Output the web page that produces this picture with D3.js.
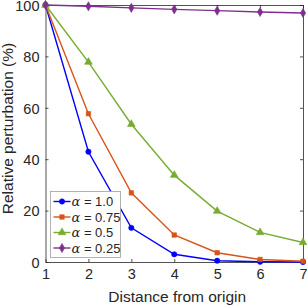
<!DOCTYPE html>
<html>
<head>
<meta charset="utf-8">
<script src="https://cdn.jsdelivr.net/npm/d3@7"></script>
<style>
  body { margin: 0; background: #fff; }
  svg { display: block; font-family: "Liberation Sans", Arial, sans-serif; }
</style>
</head>
<body>
<svg id="chart" width="307" height="305"></svg>
<script>
// data
const distances = [1, 2, 3, 4, 5, 6, 7];
const alpha100 = [100, 42.9, 13.3, 3.0, 0.5, 0.1, 0.0];
const alpha075 = [100, 57.7, 26.9, 10.5, 3.6, 1.0, 0.3];
const alpha050 = [100, 77.8, 53.6, 33.8, 19.8, 11.5, 7.6];
const alpha025 = [100, 99.5, 98.9, 98.3, 97.8, 97.3, 96.9];
const xTicks = [1, 2, 3, 4, 5, 6, 7];
const yTicks = [0, 20, 40, 60, 80, 100];

const series = [
    { label: "1.0", values: alpha100, color: "#0000ff", marker: "circle" },
    { label: "0.75", values: alpha075, color: "#D95319", marker: "square" },
    { label: "0.5", values: alpha050, color: "#77AC30", marker: "triangle" },
    { label: "0.25", values: alpha025, color: "#7E2F8E", marker: "diamond" }
];

const axisColor = "#262626";
const margin = { top: 5, right: 4, bottom: 43, left: 45.5 };
const width = 307 - margin.left - margin.right;
const height = 305 - margin.top - margin.bottom;

const svg = d3.select("#chart");
const g = svg.append("g").attr("transform", `translate(${margin.left},${margin.top})`);

const x = d3.scaleLinear().domain([1, 7]).range([0, width]);
const y = d3.scaleLinear().domain([0, 100]).range([height, 0]);

const symbols = {
    circle: d3.symbol().type(d3.symbolCircle).size(22),
    square: d3.symbol().type(d3.symbolSquare).size(20),
    triangle: d3.symbol().type(d3.symbolTriangle).size(26),
    diamond: d3.symbol().type(d3.symbolDiamond).size(24)
};

// axes with inward ticks
function styleAxis(sel) {
    sel.selectAll("path").attr("stroke", axisColor).attr("stroke-width", 0.8);
    sel.selectAll("line").attr("stroke", axisColor).attr("stroke-width", 0.8);
    sel.selectAll("text").attr("fill", axisColor).style("font-size", "14.5px");
}

g.append("g")
    .attr("transform", `translate(0,${height})`)
    .call(d3.axisBottom(x).tickValues(xTicks).tickFormat(d3.format("d")).tickSize(-3).tickPadding(7).tickSizeOuter(0))
    .call(styleAxis);

g.append("g")
    .call(d3.axisTop(x).tickValues(xTicks).tickSize(-3).tickFormat("").tickSizeOuter(0))
    .call(styleAxis);

g.append("g")
    .call(d3.axisLeft(y).tickValues(yTicks).tickSize(-3).tickPadding(6).tickSizeOuter(0))
    .call(styleAxis)
    .selectAll("text").attr("dy", "0.36em");

g.append("g")
    .attr("transform", `translate(${width},0)`)
    .call(d3.axisRight(y).tickValues(yTicks).tickSize(-3).tickFormat("").tickSizeOuter(0))
    .call(styleAxis);

// lines and markers
const line = d3.line()
    .x((d, i) => x(distances[i]))
    .y(d => y(d));

series.forEach(s => {
    g.append("path")
        .datum(s.values)
        .attr("fill", "none")
        .attr("stroke", s.color)
        .attr("stroke-width", 1.4)
        .attr("d", line);

    g.selectAll(null)
        .data(s.values)
        .enter()
        .append("path")
        .attr("transform", (d, i) => `translate(${x(distances[i])},${y(d)})`)
        .attr("d", symbols[s.marker])
        .attr("fill", s.color)
        .attr("stroke", s.color)
        .attr("stroke-width", 0.6);
});

// axis labels
svg.append("text")
    .attr("x", margin.left + width / 2 + 3)
    .attr("y", 302)
    .attr("text-anchor", "middle")
    .attr("fill", axisColor)
    .style("font-size", "15.5px")
    .text("Distance from origin");

svg.append("text")
    .attr("transform", `translate(13,${margin.top + height / 2 - 5}) rotate(-90)`)
    .attr("text-anchor", "middle")
    .attr("fill", axisColor)
    .style("font-size", "15.5px")
    .text("Relative perturbation (%)");

// legend
const legend = svg.append("g").attr("transform", "translate(50.5,191.5)");
legend.append("rect")
    .attr("width", 70)
    .attr("height", 66)
    .attr("fill", "#fff")
    .attr("stroke", "#a0a0a0")
    .attr("stroke-width", 0.8);

series.forEach((s, i) => {
    const ly = 10 + i * 15.5;
    legend.append("line")
        .attr("x1", 3).attr("x2", 20)
        .attr("y1", ly).attr("y2", ly)
        .attr("stroke", s.color)
        .attr("stroke-width", 1.4);
    legend.append("path")
        .attr("transform", `translate(11.5,${ly})`)
        .attr("d", symbols[s.marker])
        .attr("fill", s.color)
        .attr("stroke", s.color)
        .attr("stroke-width", 0.6);
    const t = legend.append("text")
        .attr("x", 21)
        .attr("y", ly + 4.5)
        .attr("fill", axisColor)
        .style("font-size", "13px");
    t.append("tspan").style("font-style", "italic").style("font-family", "'DejaVu Serif', serif").text("α");
    t.append("tspan").text(" = " + s.label);
});
</script>
</body>
</html>
